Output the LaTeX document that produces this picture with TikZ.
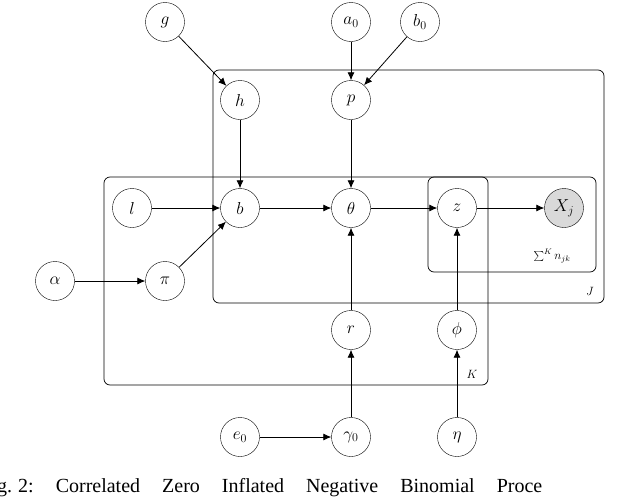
\documentclass[tikz,border=0pt]{standalone}
\usepackage{fontspec}
\newfontfamily\capfont{Liberation Serif}
\usetikzlibrary{arrows.meta}
\begin{document}
\begin{tikzpicture}[x=1pt,y=-1pt,
  var/.style={circle,draw,fill=white,minimum size=39pt,inner sep=0pt,font=\LARGE},
  obs/.style={var,fill=black!15},
  plate/.style={draw,line width=0.7pt,rounded corners=6pt},
  edge/.style={-{Latex[length=8pt,width=7pt]},line width=0.8pt}]
\useasboundingbox (0,0) rectangle (640,498);
\begin{scope}
\clip (0,0) rectangle (640,498);
% plates
\draw[plate] (213,70) rectangle (604,303);
\draw[plate] (104,177) rectangle (488,385);
\draw[plate] (428,177) rectangle (596,272);
\node[font=\large] at (590,291) {$J$};
\node[font=\large] at (472,374) {$K$};
\node[font=\large] at (552,256) {$\sum^K n_{jk}$};
% nodes
\node[var] (g) at (165,22) {$g$};
\node[var] (a0) at (351,22) {$a_0$};
\node[var] (b0) at (420,22) {$b_0$};
\node[var] (h) at (240,100) {$h$};
\node[var] (p) at (351,100) {$p$};
\node[var] (l) at (132,208) {$l$};
\node[var] (b) at (240,208) {$b$};
\node[var] (th) at (351,208) {$\theta$};
\node[var] (z) at (457,208) {$z$};
\node[obs] (x) at (564,208) {$X_j$};
\node[var] (al) at (55,281) {$\alpha$};
\node[var] (pi) at (165,281) {$\pi$};
\node[var] (r) at (351,330) {$r$};
\node[var] (phi) at (457,330) {$\phi$};
\node[var] (e0) at (240,437) {$e_0$};
\node[var] (ga) at (351,437) {$\gamma_0$};
\node[var] (eta) at (457,437) {$\eta$};
% edges
\draw[edge] (g) -- (h);
\draw[edge] (a0) -- (p);
\draw[edge] (b0) -- (p);
\draw[edge] (h) -- (b);
\draw[edge] (p) -- (th);
\draw[edge] (l) -- (b);
\draw[edge] (pi) -- (b);
\draw[edge] (al) -- (pi);
\draw[edge] (b) -- (th);
\draw[edge] (th) -- (z);
\draw[edge] (z) -- (x);
\draw[edge] (r) -- (th);
\draw[edge] (phi) -- (z);
\draw[edge] (e0) -- (ga);
\draw[edge] (ga) -- (r);
\draw[edge] (eta) -- (phi);
% caption
\node[anchor=base west,inner sep=0pt,font=\capfont\fontsize{20}{22}\selectfont] (cap) at (-3,492)
  {g.\hspace{0.3em}2:\hspace{1.1em}Correlated\hspace{1.1em}Zero\hspace{1.1em}Inflated\hspace{1.1em}Negative\hspace{1.1em}Binomial\hspace{1.1em}Proce};
\end{scope}
\end{tikzpicture}
\end{document}
